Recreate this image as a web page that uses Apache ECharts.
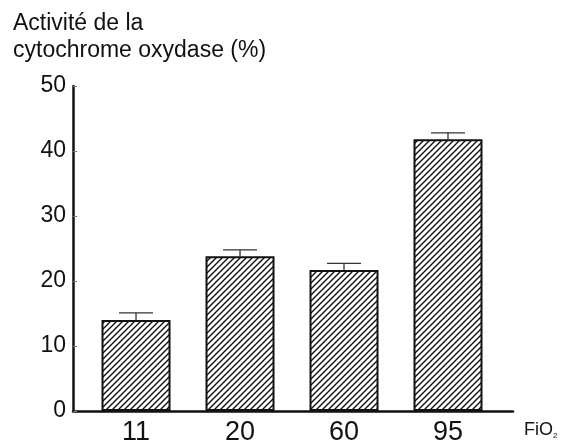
<!DOCTYPE html>
<html><head><meta charset="utf-8">
<script src="https://cdn.jsdelivr.net/npm/echarts@6/dist/echarts.min.js"></script>
<style>html,body{margin:0;padding:0;background:#fff}#c{width:569px;height:446px}</style>
</head><body><div id="c"></div>
<script>
const categories = ['11', '20', '60', '95'];
const values = [14.0, 23.8, 21.7, 41.8];
const errors = [1.1, 1.0, 1.0, 1.0];
const yTicks = [0, 10, 20, 30, 40, 50];

function hatch() {
  const s = 6;
  const c = document.createElement('canvas');
  c.width = s; c.height = s;
  const g = c.getContext('2d');
  g.fillStyle = '#fff'; g.fillRect(0, 0, s, s);
  g.strokeStyle = '#111'; g.lineWidth = 1.4;
  g.beginPath();
  g.moveTo(-1, s + 1); g.lineTo(s + 1, -1);
  g.moveTo(-1, 1); g.lineTo(1, -1);
  g.moveTo(s - 1, s + 1); g.lineTo(s + 1, s - 1);
  g.stroke();
  return c;
}
const pos = categories.map((_, i) => i + 1);
const barData = values.map((v, i) => [pos[i], v]);
const errData = values.map((v, i) => [pos[i], v, errors[i]]);

const chart = echarts.init(document.getElementById('c'), null, {renderer: 'canvas'});
const font = 'Liberation Sans, Arial, Helvetica, sans-serif';
chart.setOption({
  animation: false,
  backgroundColor: '#fff',
  title: {
    text: 'Activité de la\ncytochrome oxydase (%)',
    left: 8, top: 5,
    textStyle: {fontFamily: font, fontSize: 23, fontWeight: 'normal', color: '#111', lineHeight: 27}
  },
  grid: {left: 73, top: 86, right: 56, bottom: 35},
  xAxis: {
    type: 'value', min: 0.394, max: 4.625,
    splitLine: {show: false},
    axisLine: {show: true, onZero: false, lineStyle: {color: '#111', width: 2.5}},
    axisTick: {show: false},
    axisLabel: {
      customValues: pos,
      formatter: v => categories[Math.round(v) - 1] || '',
      fontFamily: font, fontSize: 27, color: '#111', margin: 8
    }
  },
  yAxis: {
    type: 'value', min: 0, max: 50, interval: 10,
    splitLine: {show: false},
    axisLine: {show: true, lineStyle: {color: '#111', width: 2.5}},
    axisTick: {show: true, inside: true, length: 4, lineStyle: {color: '#777', width: 1}},
    axisLabel: {
      formatter: v => yTicks.includes(v) ? String(v) : '',
      fontFamily: font, fontSize: 23, color: '#111', margin: 7
    }
  },
  graphic: [{
    type: 'text', left: 524, top: 421,
    style: {
      text: 'FiO{s|2}',
      fontFamily: font, fontSize: 18, fill: '#111',
      rich: {s: {fontSize: 8, fontFamily: font, padding: [12, 0, 0, 0], fill: '#111'}}
    }
  }],
  series: [{
    type: 'bar',
    data: barData,
    barWidth: 69,
    itemStyle: {color: {image: hatch(), repeat: 'repeat'}, borderColor: '#111', borderWidth: 2}
  }, {
    type: 'custom',
    data: errData,
    z: 3,
    renderItem: function (params, api) {
      const x = api.value(0), v = api.value(1), e = api.value(2);
      const p0 = api.coord([x, v]);
      const p1 = api.coord([x, v + e]);
      const half = 17;
      return {
        type: 'group',
        children: [
          {type: 'line', shape: {x1: p0[0], y1: p0[1], x2: p1[0], y2: p1[1]}, style: {stroke: '#222', lineWidth: 1.2}},
          {type: 'line', shape: {x1: p1[0] - half, y1: p1[1], x2: p1[0] + half, y2: p1[1]}, style: {stroke: '#333', lineWidth: 1.2}}
        ]
      };
    }
  }]
});
</script>
</body></html>
